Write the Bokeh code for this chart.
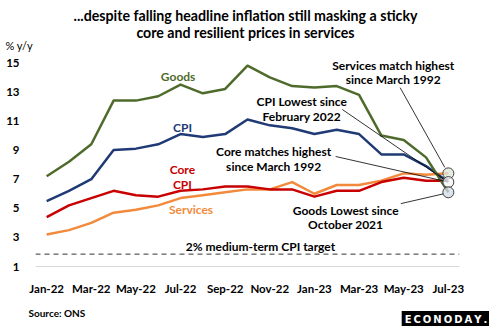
from bokeh.plotting import figure
from bokeh.models import Label, FixedTicker, Span, Range1d
from bokeh.embed import file_html
from bokeh.resources import INLINE

months = ["Jan-22", "Feb-22", "Mar-22", "Apr-22", "May-22", "Jun-22", "Jul-22", "Aug-22",
          "Sep-22", "Oct-22", "Nov-22", "Dec-22", "Jan-23", "Feb-23", "Mar-23", "Apr-23",
          "May-23", "Jun-23", "Jul-23"]
goods = [7.2, 8.2, 9.4, 12.4, 12.4, 12.7, 13.5, 12.9, 13.2, 14.8, 14.0, 13.4, 13.3, 13.4, 12.8, 10.0, 9.7, 8.5, 6.1]
cpi = [5.5, 6.2, 7.0, 9.0, 9.1, 9.4, 10.1, 9.9, 10.1, 11.1, 10.7, 10.5, 10.1, 10.4, 10.1, 8.7, 8.7, 7.9, 6.8]
core = [4.4, 5.2, 5.7, 6.2, 5.9, 5.8, 6.2, 6.3, 6.5, 6.5, 6.3, 6.3, 5.8, 6.2, 6.2, 6.8, 7.1, 6.9, 6.9]
services = [3.2, 3.5, 4.0, 4.7, 4.9, 5.2, 5.7, 5.9, 6.1, 6.3, 6.3, 6.8, 6.0, 6.6, 6.6, 6.9, 7.4, 7.3, 7.4]
target = 1.85
y_ticks = [1, 3, 5, 7, 9, 11, 13, 15]
title_lines = ["...despite falling headline inflation still masking a sticky",
               "core and resilient prices in services"]

x = list(range(len(months)))

GREEN = "#4f6b2c"
NAVY = "#1f3a75"
RED = "#c80000"
ORANGE = "#f28a3c"
FONT = "Lato"

p = figure(width=489, height=326, x_range=Range1d(-0.5, 18.5), y_range=Range1d(1, 15.5),
           output_backend="svg", toolbar_location=None,
           min_border_left=35, min_border_right=30, min_border_top=55, min_border_bottom=44)
p.outline_line_color = None
p.background_fill_color = "white"
p.border_fill_color = "white"
p.grid.visible = False

p.xaxis.ticker = FixedTicker(ticks=x[::2])
p.xaxis.major_label_overrides = {i: months[i] for i in x[::2]}
p.xaxis.axis_line_color = "#d9d9d9"
p.xaxis.axis_line_width = 1
p.xaxis.major_tick_line_color = None
p.xaxis.minor_tick_line_color = None
p.xaxis.major_label_standoff = 9
p.yaxis.ticker = FixedTicker(ticks=y_ticks)
p.yaxis.axis_line_color = None
p.yaxis.major_tick_line_color = None
p.yaxis.minor_tick_line_color = None
p.yaxis.major_label_standoff = 10
for ax in (p.xaxis[0], p.yaxis[0]):
    ax.major_label_text_font = FONT
    ax.major_label_text_font_style = "bold"
    ax.major_label_text_font_size = "11.5px"
    ax.major_label_text_color = "black"

p.add_layout(Span(location=target, dimension="width", line_color="#333333",
                  line_width=1, line_dash="5 4"))

p.line(x, services, line_color=ORANGE, line_width=2.5, line_join="round")
p.line(x, core, line_color=RED, line_width=2.5, line_join="round")
p.line(x, cpi, line_color=NAVY, line_width=2.5, line_join="round")
p.line(x, goods, line_color=GREEN, line_width=2.5, line_join="round")

# leader lines for annotations
p.segment(x0=[15.84, 13.25, 12.95, 15.87], y0=[13.29, 11.79, 8.56, 5.32],
          x1=[17.84, 17.93, 17.84, 17.80], y1=[7.81, 6.86, 6.86, 6.0],
          line_color="black", line_width=0.8)

p.scatter([x[-1]] * 3, [services[-1], cpi[-1], goods[-1]], size=11,
          fill_color=["#dde4d8", "#f4f4f4", "#d2dbe5"], fill_alpha=0.75,
          line_color="#404040", line_width=1)


def lab(xv, yv, text, color="black", size="12px"):
    p.add_layout(Label(x=xv, y=yv, text=text, text_align="center", text_baseline="middle",
                       text_font=FONT, text_font_style="bold", text_font_size=size,
                       text_color=color))


lab(5.89, 14.03, "Goods", GREEN)
lab(6.09, 10.58, "CPI", NAVY)
lab(6.08, 7.64, "Core", RED)
lab(6.08, 6.65, "CPI", RED)
lab(6.47, 4.94, "Services", ORANGE)
lab(9.58, 2.39, "2% medium-term CPI target")
lab(15.53, 14.84, "Services match highest")
lab(15.53, 13.82, "since March 1992")
lab(11.43, 12.35, "CPI Lowest since")
lab(11.43, 11.33, "February 2022")
lab(10.17, 8.88, "Core matches highest")
lab(10.17, 7.88, "since March 1992")
lab(13.4, 4.83, "Goods Lowest since")
lab(13.4, 3.87, "October 2021")


def side(place, xs, ys, text, size, style="bold", color="black", align="center", **kw):
    p.add_layout(Label(x=xs, y=ys, x_units="screen", y_units="screen", text=text,
                       text_align=align, text_baseline="middle", text_font=kw.pop("font", FONT),
                       text_font_style=style, text_font_size=size, text_color=color, **kw), place)


side("above", -30, 10, "% y/y", "11px", style="normal", align="left")
side("above", 210, 9.8, title_lines[1], "14.2px")
side("above", 210, 9.6, title_lines[0], "14.2px")
side("below", -7, -3, "Source: ONS", "10px", align="left")
side("below", 410.5, 7, "E\u2009C\u2009O\u2009N\u2009O\u2009D\u2009A\u2009Y\u2009.", "10px",
     color="white", font="DejaVu Sans", background_fill_color="black", padding=3)

open("out.html", "w").write(file_html(p, INLINE))
